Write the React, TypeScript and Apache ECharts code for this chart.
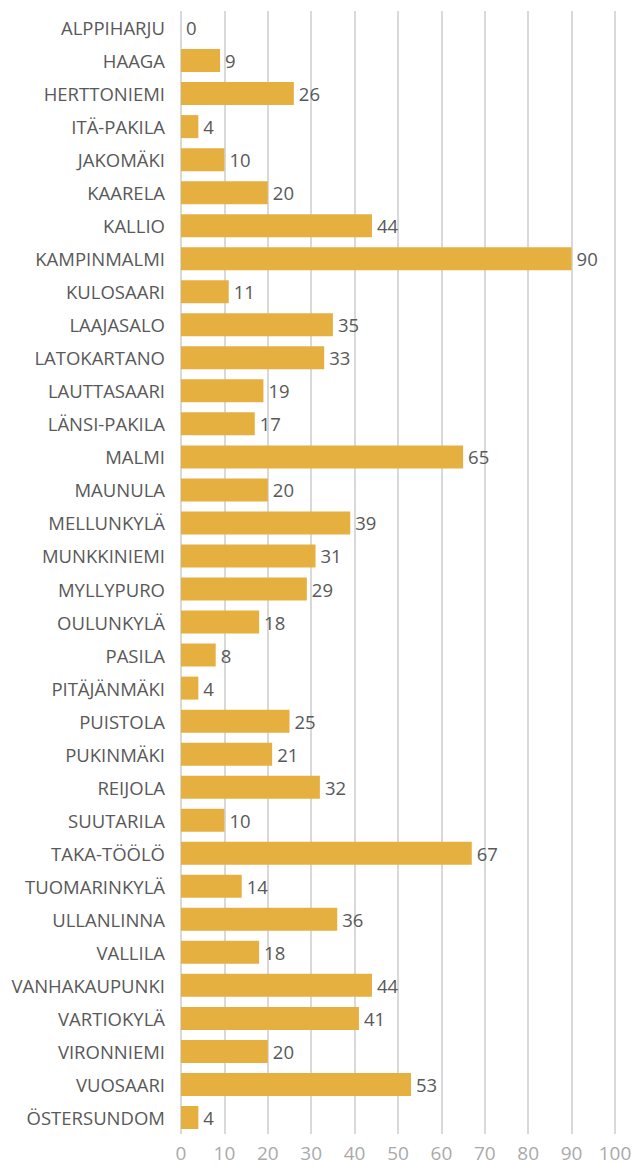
import React, { useEffect, useRef } from "react";
import * as echarts from "echarts";

const categories = [
  "ALPPIHARJU", "HAAGA", "HERTTONIEMI", "ITÄ-PAKILA", "JAKOMÄKI", "KAARELA", "KALLIO",
  "KAMPINMALMI", "KULOSAARI", "LAAJASALO", "LATOKARTANO", "LAUTTASAARI", "LÄNSI-PAKILA",
  "MALMI", "MAUNULA", "MELLUNKYLÄ", "MUNKKINIEMI", "MYLLYPURO", "OULUNKYLÄ", "PASILA",
  "PITÄJÄNMÄKI", "PUISTOLA", "PUKINMÄKI", "REIJOLA", "SUUTARILA", "TAKA-TÖÖLÖ",
  "TUOMARINKYLÄ", "ULLANLINNA", "VALLILA", "VANHAKAUPUNKI", "VARTIOKYLÄ", "VIRONNIEMI",
  "VUOSAARI", "ÖSTERSUNDOM",
];
const values = [
  0, 9, 26, 4, 10, 20, 44, 90, 11, 35, 33, 19, 17, 65, 20, 39, 31, 29, 18, 8, 4, 25, 21,
  32, 10, 67, 14, 36, 18, 44, 41, 20, 53, 4,
];

const FONT = "Open Sans";

export default function App() {
  const ref = useRef<HTMLDivElement>(null);
  useEffect(() => {
    document.body.style.margin = "0";
    const chart = echarts.init(ref.current!, null, { renderer: "svg" });
    chart.setOption({
      animation: false,
      textStyle: { fontFamily: FONT },
      grid: { left: 181, right: 22, top: 11, bottom: 30 },
      xAxis: {
        type: "value",
        min: 0,
        max: 100,
        interval: 10,
        axisLine: { show: false },
        axisTick: { show: false },
        axisLabel: { color: "#aaaaaa", fontSize: 19, margin: 9, fontFamily: FONT },
        splitLine: { show: true, lineStyle: { color: "#d9d9d9", width: 2 } },
      },
      yAxis: {
        type: "category",
        data: categories,
        inverse: true,
        axisLine: { show: false },
        axisTick: { show: false },
        axisLabel: { color: "#595959", fontSize: 18.5, margin: 16, fontFamily: FONT },
      },
      series: [
        {
          type: "bar",
          data: values,
          barWidth: 23,
          itemStyle: { color: "#e6b040" },
          label: {
            show: true,
            position: "right",
            distance: 5,
            color: "#595959",
            fontSize: 18.5,
            fontFamily: FONT,
          },
        },
      ],
    });
    return () => chart.dispose();
  }, []);
  return <div ref={ref} style={{ width: 637, height: 1164 }} />;
}
